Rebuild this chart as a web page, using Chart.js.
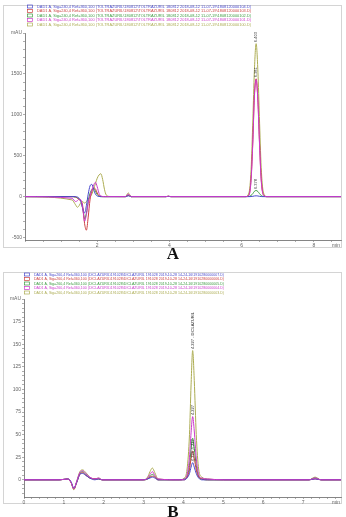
<!DOCTYPE html>
<html>
<head>
<meta charset="utf-8">
<script src="https://cdn.jsdelivr.net/npm/chart.js@4.4.0/dist/chart.umd.min.js"></script>
<style>
  html, body { margin: 0; padding: 0; background: #fff; }
  #page { position: relative; width: 346px; height: 517px; overflow: hidden; background: #fff; }
  .box { position: absolute; border: 1px solid #d4d4d4; box-sizing: border-box; }
  canvas { position: absolute; left: 0; }
  .cap { position: absolute; left: 0; width: 346px; text-align: center; font: bold 17px "Liberation Serif", serif; color: #111; }
</style>
</head>
<body>
<div id="page">
  <div class="box" style="left:3px;top:5px;width:339px;height:243px"></div>
  <div class="box" style="left:3px;top:272px;width:339px;height:232px"></div>
  <canvas id="chartA" width="346" height="250" style="top:0"></canvas>
  <canvas id="chartB" width="346" height="247" style="top:260px"></canvas>
  <div class="cap" style="top:244px">A</div>
  <div class="cap" style="top:502px">B</div>
</div>
<script>
// trace colours, same order as the legend rows
const SERIES_COLORS = ["#4848cc", "#cc4040", "#3a9a40", "#cc3acc", "#acac52"];

// ---- panel A (toltrazuril) ----
const A_LEGEND = [
  "DAD1 A, Sig=240,4 Ref=360,100 (TOLTRAZURIL\\180812\\TOLTRAZURIL 180812 2018-08-12 11-07-19\\1808120000104.D)",
  "DAD1 A, Sig=240,4 Ref=360,100 (TOLTRAZURIL\\180812\\TOLTRAZURIL 180812 2018-08-12 11-07-19\\1808120000103.D)",
  "DAD1 A, Sig=240,4 Ref=360,100 (TOLTRAZURIL\\180812\\TOLTRAZURIL 180812 2018-08-12 11-07-19\\1808120000102.D)",
  "DAD1 A, Sig=240,4 Ref=360,100 (TOLTRAZURIL\\180812\\TOLTRAZURIL 180812 2018-08-12 11-07-19\\1808120000101.D)",
  "DAD1 A, Sig=240,4 Ref=360,100 (TOLTRAZURIL\\180812\\TOLTRAZURIL 180812 2018-08-12 11-07-19\\1808120000100.D)"
];
const A_TIMES = [0, 1.3, 1.4, 1.45, 1.5, 1.55, 1.6, 1.65, 1.7, 1.75, 1.8, 1.85, 1.9, 1.95, 2.0, 2.05, 2.1, 2.15, 2.2, 2.25, 2.35,
  2.78, 2.86, 2.94, 3.9, 3.97, 4.04,
  6.1, 6.2, 6.26, 6.31, 6.35, 6.4, 6.45, 6.49, 6.54, 6.6, 6.7, 8.75];
const A_BLUE = [0, 0, 0, -5, -20, -60, -150, -200, -110, 30, 130, 150, 90, 30, 8, 2, 0, 0, 0, 0, 0,
  0, 10, 0, 0, 3, 0,
  0, 0, 1, 4, 8, 10, 8, 4, 1, 0, 0, 0];
const A_RED = [0, 0, -5, -20, -40, -50, -120, -330, -410, -250, -40, 60, 105, 95, 45, 12, 3, 0, 0, 0, 0,
  0, 20, 0, 0, 4, 0,
  0, 20, 220, 700, 1220, 1440, 1170, 700, 220, 25, 0, 0];
const A_GREEN = [0, 0, -5, -15, -30, -60, -150, -270, -200, -60, 40, 85, 100, 70, 25, 6, 0, 0, 0, 0, 0,
  0, 15, 0, 0, 3, 0,
  0, 2, 14, 38, 64, 75, 62, 38, 14, 2, 0, 0];
const A_MAGENTA = [0, -20, -60, -50, -30, -40, -150, -300, -220, -80, 10, 80, 140, 175, 120, 40, 10, 2, 0, 0, 0,
  0, 30, 0, 0, 5, 0,
  0, 16, 200, 680, 1200, 1430, 1150, 680, 200, 22, 0, 0];
const A_OLIVE = [0, -40, -100, -130, -110, -70, -60, -80, -60, -30, -5, 30, 90, 160, 225, 265, 280, 210, 90, 20, 2,
  0, 45, 0, 0, 6, 0,
  0, 45, 330, 950, 1520, 1870, 1520, 980, 360, 55, 0, 0];
const A_X_LABELS = [2, 4, 6, 8];
const A_Y_LABELS = [-500, 0, 500, 1000, 1500];
const A_PEAK_TEXT = ["6.403", "6.381", "6.378"];
const A_PEAK_TIME = [6.4, 6.4, 6.4];
const A_PEAK_VALUE = [1870, 1440, 75];

// ---- panel B (diclazuril) ----
const B_LEGEND = [
  "DAD1 A, Sig=260,4 Ref=360,100 (DICLAZURIL\\191028\\DICLAZURIL 191028 2019-10-28 14-24-16\\1910280000007.D)",
  "DAD1 A, Sig=260,4 Ref=360,100 (DICLAZURIL\\191028\\DICLAZURIL 191028 2019-10-28 14-24-16\\1910280000006.D)",
  "DAD1 A, Sig=260,4 Ref=360,100 (DICLAZURIL\\191028\\DICLAZURIL 191028 2019-10-28 14-24-16\\1910280000005.D)",
  "DAD1 A, Sig=260,4 Ref=360,100 (DICLAZURIL\\191028\\DICLAZURIL 191028 2019-10-28 14-24-16\\1910280000004.D)",
  "DAD1 A, Sig=260,4 Ref=360,100 (DICLAZURIL\\191028\\DICLAZURIL 191028 2019-10-28 14-24-16\\1910280000003.D)"
];
const B_TIMES = [0, 0.9, 1.1, 1.18, 1.25, 1.32, 1.4, 1.47, 1.55, 1.65, 1.78, 1.87, 1.96,
  3.0, 3.1, 3.16, 3.22, 3.28, 3.36, 3.9,
  4.02, 4.09, 4.15, 4.19, 4.23, 4.27, 4.32, 4.38, 4.46, 4.6, 5.0,
  7.15, 7.3, 7.45, 7.95];
const B_BLUE = [0, 0, 1, -2, -9, -3, 6, 7, 5, 2, 0, 1, 0,
  0, 1, 2, 3, 2, 0, 0,
  0, 2, 7, 14, 19, 14, 7, 2, 0, 0, 0,
  0, 1, 0, 0];
const B_RED = [0, 0, 1, -3, -10, -3, 6, 8, 5, 2, 1, 1, 0,
  0, 1, 3, 4, 3, 0, 0,
  0, 3, 11, 24, 32, 24, 11, 3, 1, 0, 0,
  0, 1, 0, 0];
const B_GREEN = [0, 0, 1, -3, -10, -3, 7, 9, 6, 2, 1, 1, 0,
  0, 1, 4, 6, 4, 0, 0,
  1, 4, 16, 34, 46, 35, 16, 4, 1, 0, 0,
  0, 2, 0, 0];
const B_MAGENTA = [0, 0, 1, -3, -10, -2, 8, 10, 7, 3, 1, 2, 0,
  0, 2, 6, 9, 5, 1, 0,
  1, 6, 25, 52, 70, 54, 24, 6, 2, 1, 0,
  0, 2, 0, 0];
const B_OLIVE = [0, 0, 1, -3, -11, -2, 9, 11, 8, 3, 1, 2, 0,
  0, 3, 9, 13, 8, 1, 0,
  2, 12, 50, 105, 143, 110, 50, 12, 3, 1, 0,
  0, 3, 0, 0];
const B_X_LABELS = [0, 1, 2, 3, 4, 5, 6, 7];
const B_Y_LABELS = [0, 25, 50, 75, 100, 125, 150, 175];
const B_PEAK_TEXT = ["4.227 - DICLAZURIL", "4.227", "4.227", "4.226"];
const B_PEAK_TIME = [4.23, 4.23, 4.23, 4.23];
const B_PEAK_VALUE = [143, 70, 32, 19];

const TICK_FONT = { family: "Liberation Sans", size: 5 };

function hasLabel(list, v) {
  return list.some(l => Math.abs(l - v) < 1e-6);
}

// evenly spaced tick marks, labels only where the list says so
function stepTicks(step) {
  return scale => {
    const out = [];
    for (let k = Math.ceil(scale.min / step - 1e-9); k * step <= scale.max + 1e-9; k++) {
      out.push({ value: +(k * step).toFixed(4) });
    }
    scale.ticks = out;
  };
}

function panelText(cfg) {
  return {
    id: "panelText",
    afterDraw(chart) {
      const ctx = chart.ctx;
      const { left, top, right, bottom } = chart.chartArea;
      ctx.save();

      // legend rows
      cfg.legend.forEach((text, i) => {
        const y = cfg.legendY[i];
        ctx.strokeStyle = SERIES_COLORS[i];
        ctx.lineWidth = 0.7;
        ctx.strokeRect(cfg.legendX + 0.5, y - 1.5, 5, 3);
        ctx.fillStyle = SERIES_COLORS[i];
        ctx.font = '4px "Liberation Sans"';
        ctx.textAlign = "left";
        ctx.textBaseline = "middle";
        ctx.fillText(text, cfg.legendX + 10, y, cfg.legendW);
      });

      // units
      ctx.fillStyle = "#666";
      ctx.font = '5px "Liberation Sans"';
      ctx.textAlign = "right";
      ctx.textBaseline = "middle";
      ctx.fillText("mAU", left - 3, top);
      ctx.textBaseline = "top";
      ctx.fillText("min", right - 1, bottom + 3);

      // retention time labels above the apexes
      const xs = chart.scales.x, ys = chart.scales.y;
      ctx.font = '4px "Liberation Sans"';
      ctx.fillStyle = "#333";
      cfg.peakText.forEach((t, i) => {
        const px = xs.getPixelForValue(cfg.peakTime[i]);
        const py = ys.getPixelForValue(cfg.peakValue[i]);
        ctx.save();
        ctx.translate(px, py - 1.5);
        ctx.rotate(-Math.PI / 2);
        ctx.textAlign = "left";
        ctx.textBaseline = "middle";
        ctx.fillText(t, 0, 0);
        ctx.restore();
      });
      ctx.restore();
    }
  };
}

function makeChart(id, times, series, cfg) {
  return new Chart(document.getElementById(id), {
    type: "line",
    data: {
      datasets: series.map((vals, i) => ({
        data: times.map((t, k) => ({ x: t, y: vals[k] })),
        borderColor: SERIES_COLORS[i],
        borderWidth: 1,
        pointRadius: 0,
        cubicInterpolationMode: "monotone",
        order: i === 3 ? 0 : 1
      }))
    },
    options: {
      responsive: false,
      animation: false,
      devicePixelRatio: 1,
      layout: { autoPadding: false, padding: { top: cfg.padTop, right: 5, left: 0, bottom: 0 } },
      plugins: { legend: { display: false }, tooltip: { enabled: false } },
      scales: {
        x: {
          type: "linear",
          min: cfg.xMin, max: cfg.xMax,
          afterBuildTicks: stepTicks(cfg.xStep),
          afterFit: s => { s.height = 10; },
          border: { color: "#666", width: 0.8 },
          grid: { drawOnChartArea: false, tickLength: 2, color: "#777", lineWidth: 0.6 },
          ticks: {
            autoSkip: false, maxRotation: 0, padding: 1, font: TICK_FONT, color: "#666",
            callback: v => hasLabel(cfg.xLabels, v) ? String(v) : ""
          }
        },
        y: {
          min: cfg.yMin, max: cfg.yMax,
          afterBuildTicks: stepTicks(cfg.yStep),
          afterFit: s => { s.width = cfg.yWidth; },
          border: { color: "#666", width: 0.8 },
          grid: { drawOnChartArea: false, tickLength: 2, color: "#777", lineWidth: 0.6 },
          ticks: {
            autoSkip: false, padding: 1, font: TICK_FONT, color: "#666",
            callback: v => hasLabel(cfg.yLabels, v) ? String(v) : ""
          }
        }
      }
    },
    plugins: [panelText(cfg)]
  });
}

makeChart("chartA", A_TIMES, [A_BLUE, A_RED, A_GREEN, A_MAGENTA, A_OLIVE], {
  padTop: 33, yWidth: 25,
  xMin: 0, xMax: 8.75, xStep: 0.5, xLabels: A_X_LABELS,
  yMin: -530, yMax: 2000, yStep: 100, yLabels: A_Y_LABELS,
  legend: A_LEGEND, legendX: 27, legendY: [6.5, 11, 15.5, 20, 24.5], legendW: 214,
  peakText: A_PEAK_TEXT, peakTime: A_PEAK_TIME, peakValue: A_PEAK_VALUE
});

makeChart("chartB", B_TIMES, [B_BLUE, B_RED, B_GREEN, B_MAGENTA, B_OLIVE], {
  padTop: 39, yWidth: 24,
  xMin: 0, xMax: 7.95, xStep: 0.2, xLabels: B_X_LABELS,
  yMin: -19, yMax: 200, yStep: 5, yLabels: B_Y_LABELS,
  legend: B_LEGEND, legendX: 24, legendY: [14.5, 19, 23.5, 28, 32.5], legendW: 190,
  peakText: B_PEAK_TEXT, peakTime: B_PEAK_TIME, peakValue: B_PEAK_VALUE
});
</script>
</body>
</html>
